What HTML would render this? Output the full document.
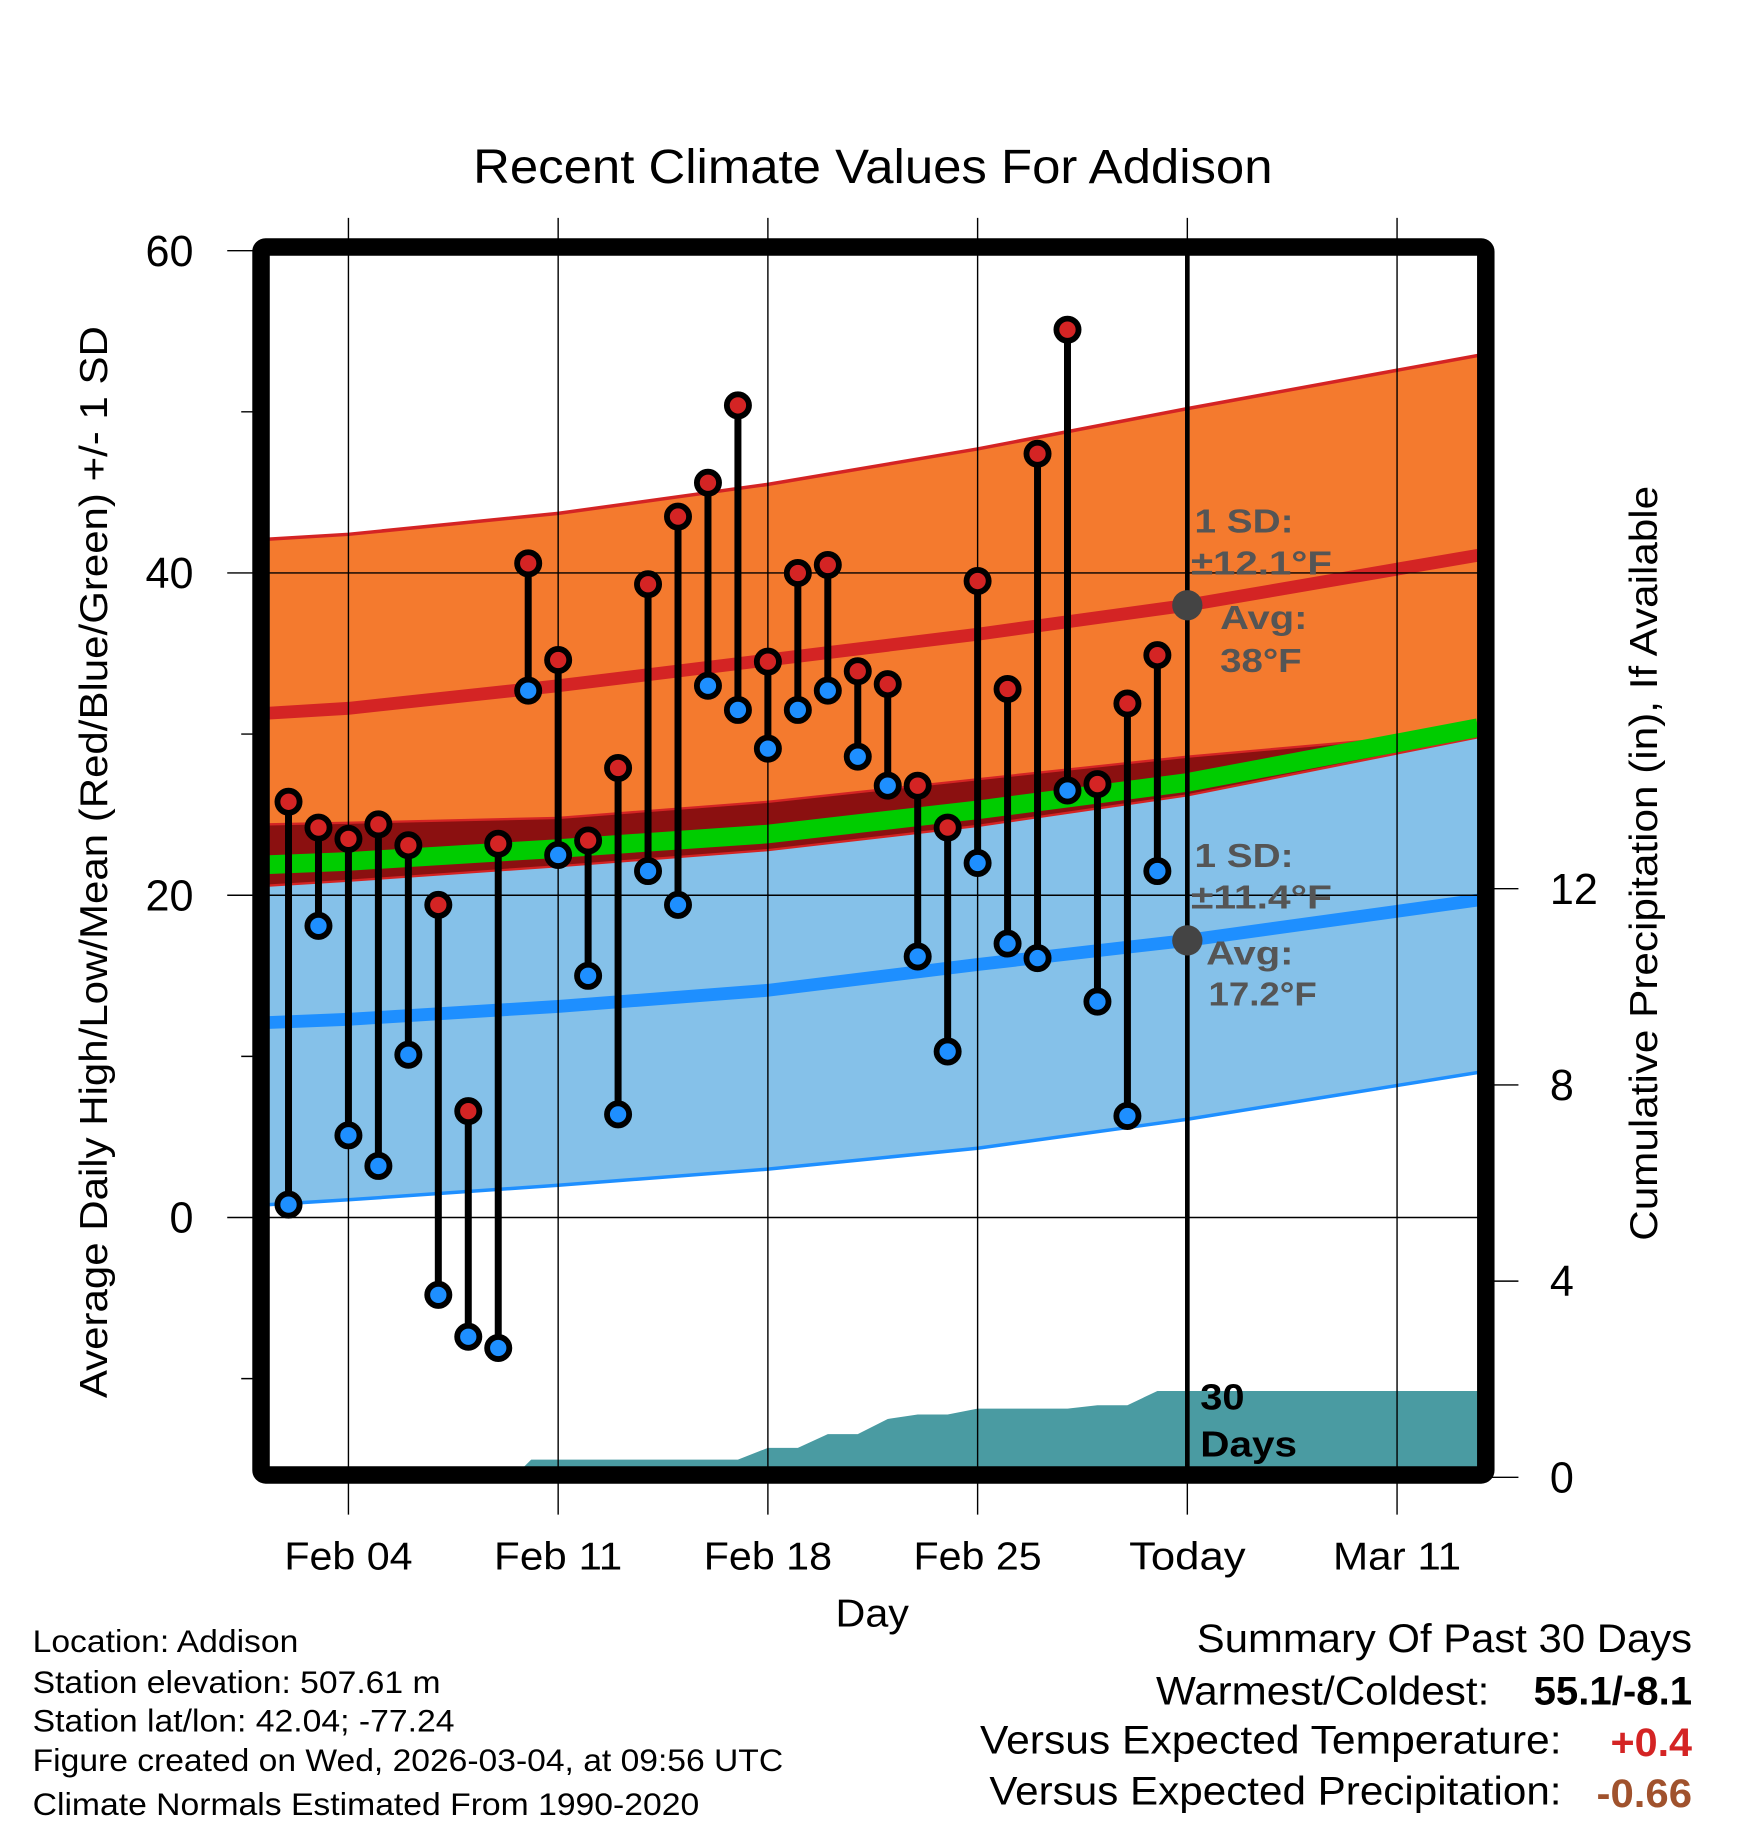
<!DOCTYPE html>
<html><head><meta charset="utf-8"><style>
html,body{margin:0;padding:0;background:#fff;}
svg{display:block;font-family:"Liberation Sans",Arial,sans-serif;}
</style></head><body>
<svg id="chart" width="1748" height="1828" viewBox="0 0 1500 1569" preserveAspectRatio="none" xmlns="http://www.w3.org/2000/svg">
<rect x="0" y="0" width="1500" height="1569" fill="#fff"/>
<g id="plot"></g>
<text x="406" y="157" font-size="41" textLength="686" lengthAdjust="spacingAndGlyphs">Recent Climate Values For Addison</text>
<text transform="translate(92,740) rotate(-90)" font-size="33" text-anchor="middle" textLength="920" lengthAdjust="spacingAndGlyphs">Average Daily High/Low/Mean (Red/Blue/Green) +/- 1 SD</text>
<text transform="translate(1422,741) rotate(-90)" font-size="33" text-anchor="middle" textLength="648" lengthAdjust="spacingAndGlyphs">Cumulative Precipitation (in), If Available</text>
<text x="717" y="1396" font-size="33" textLength="63" lengthAdjust="spacingAndGlyphs">Day</text>
<g font-size="27">
<text x="28" y="1418" textLength="228" lengthAdjust="spacingAndGlyphs">Location: Addison</text>
<text x="28" y="1453" textLength="350" lengthAdjust="spacingAndGlyphs">Station elevation: 507.61 m</text>
<text x="28" y="1486" textLength="362" lengthAdjust="spacingAndGlyphs">Station lat/lon: 42.04; -77.24</text>
<text x="28" y="1520" textLength="644" lengthAdjust="spacingAndGlyphs">Figure created on Wed, 2026-03-04, at 09:56 UTC</text>
<text x="28" y="1558" textLength="572" lengthAdjust="spacingAndGlyphs">Climate Normals Estimated From 1990-2020</text>
</g>
<g font-size="34">
<text x="1027" y="1418" textLength="425" lengthAdjust="spacingAndGlyphs">Summary Of Past 30 Days</text>
<text x="992" y="1463" textLength="286" lengthAdjust="spacingAndGlyphs">Warmest/Coldest:</text>
<text x="1316" y="1463" font-weight="bold" textLength="136" lengthAdjust="spacingAndGlyphs">55.1/-8.1</text>
<text x="841" y="1505" textLength="499" lengthAdjust="spacingAndGlyphs">Versus Expected Temperature:</text>
<text x="1382" y="1507" font-weight="bold" fill="#d42424" textLength="70" lengthAdjust="spacingAndGlyphs">+0.4</text>
<text x="849" y="1549" textLength="491" lengthAdjust="spacingAndGlyphs">Versus Expected Precipitation:</text>
<text x="1370" y="1551" font-weight="bold" fill="#a0522d" textLength="82" lengthAdjust="spacingAndGlyphs">-0.66</text>
</g>
</svg>
<script>
// ---- data ----
const days = [2,3,4,5,6,7,8,9,10,11,12,13,14,15,16,17,18,19,20,21,22,23,24,25,26,27,28,29,30,31];
const highs = [25.8,24.2,23.5,24.4,23.1,19.4,6.6,23.2,40.6,34.6,23.4,27.9,39.3,43.5,45.6,50.4,34.5,40.0,40.5,33.9,33.1,26.8,24.2,39.5,32.8,47.4,55.1,26.9,31.9,34.9];
const lows = [0.8,18.1,5.1,3.2,10.1,-4.8,-7.4,-8.1,32.7,22.5,15.0,6.4,21.5,19.4,33.0,31.5,29.1,31.5,32.7,28.6,26.8,16.2,10.3,22.0,17.0,16.1,26.5,13.4,6.3,21.5];
const normDays = [1.35,4,11,18,25,32,41.7];
const hiUpper = [42.1,42.4,43.7,45.5,47.7,50.2,53.5];
const hiAvg = [31.3,31.6,33.0,34.6,36.2,38.0,41.1];
const hiLower = [24.4,24.5,24.8,25.8,27.2,28.6,30.2];
const meanAvg = [21.9,22.1,22.9,23.8,25.3,27.0,30.4];
const loUpper = [20.6,20.9,21.8,22.8,24.3,26.2,29.8];
const loAvg = [12.1,12.3,13.1,14.1,15.7,17.2,19.7];
const loLower = [0.8,1.1,2.0,3.0,4.3,6.1,9.0];
const precipDays = [1.35,9.5,10.1,17,18,19,20,21,22,23,24,25,28,29,30,31,41.7];
const precipVals = [0,0,0.36,0.36,0.6,0.6,0.88,0.88,1.19,1.28,1.28,1.4,1.4,1.47,1.47,1.76,1.76];
const yTicks = [60,40,20,0];
const yMinor = [50,30,10,-10];
const rTicks = [0,4,8,12];
const xTickDays = [4,11,18,25,32,39];
const xTickLabels = ["Feb 04","Feb 11","Feb 18","Feb 25","Today","Mar 11"];
// ---- scales ----
const L=231,R=1268,T=219,B=1259;
const xs = d => 299 + (d-4)*25.71;
const ys = v => 1045 - v*13.83;
const yr = p => 1268 - p*42.1;
const NS="http://www.w3.org/2000/svg";
const g=document.getElementById('plot');
function mk(tag,attrs,parent){const e=document.createElementNS(NS,tag);for(const k in attrs)e.setAttribute(k,attrs[k]);(parent||g).appendChild(e);return e;}
const clip=mk('clipPath',{id:'pc'});mk('rect',{x:L,y:T,width:R-L,height:B-T},clip);
const pg=mk('g',{'clip-path':'url(#pc)'});
function linePts(a){return normDays.map((d,i)=>xs(d)+','+ys(a[i])).join(' ');}
function band(up,lo,fill,name){
  const pts=normDays.map((d,i)=>xs(d)+','+ys(up[i])).concat(normDays.slice().reverse().map((d,j)=>{const i=normDays.length-1-j;return xs(d)+','+ys(lo[i]);}));
  const e=mk('polygon',{points:pts.join(' '),fill:fill},pg);
  
  
}
band(loUpper,loLower,'#85c1e9','low-sd-band');
band(hiUpper,hiLower,'#f47a2e','high-sd-band');
band(hiLower,loUpper,'#8b1010','overlap-band');
function ln(a,color,w,name){const e=mk('polyline',{points:linePts(a),fill:'none',stroke:color,'stroke-width':w},pg);
  
  }
ln(hiUpper,'#d42424',3,'high-upper-sd-line');
ln(hiLower,'#d42424',2,'high-lower-sd-line');
ln(loUpper,'#d42424',2,'low-upper-sd-line');
ln(loLower,'#1e8fff',3,'low-lower-sd-line');
ln(meanAvg,'#00cc00',16,'mean-normal-line');
ln(hiAvg,'#d42424',11,'high-normal-line');
ln(loAvg,'#1e8fff',11,'low-normal-line');
// precipitation
const pp=precipDays.map((d,i)=>xs(d)+','+yr(precipVals[i]));
pp.push(xs(41.7)+','+(B+10));pp.push(xs(1.35)+','+(B+10));
const pe=mk('polygon',{points:pp.join(' '),fill:'#4a9ba2'},pg);


// gridlines
xTickDays.forEach((d,i)=>{
  const gl=mk('line',{x1:xs(d),x2:xs(d),y1:187,y2:1300,stroke:'#000','stroke-width':1.2});
  
  
  const w = xTickLabels[i]==='Today'?100:110;
  const t=mk('text',{x:xs(d)-w/2,y:1347,'font-size':33,textLength:w,lengthAdjust:'spacingAndGlyphs'});t.textContent=xTickLabels[i];
  
  
});
yTicks.forEach(v=>{
  const gl=mk('line',{x1:195,x2:R,y1:ys(v),y2:ys(v),stroke:'#000','stroke-width':1.2});
  
  
  const t=mk('text',{x:166,y:ys(v)+13,'font-size':37,'text-anchor':'end'});t.textContent=v;
  
  
});
yMinor.forEach(v=>{const m=mk('line',{x1:207,x2:222,y1:ys(v),y2:ys(v),stroke:'#000','stroke-width':1.2});
  
  });
rTicks.forEach(p=>{
  const m=mk('line',{x1:1275,x2:1303,y1:yr(p),y2:yr(p),stroke:'#000','stroke-width':1.2});
  
  
  const t=mk('text',{x:1330,y:yr(p)+13,'font-size':37,'text-anchor':'start'});t.textContent=p;
  
  
});
// today line
const tl=mk('line',{x1:xs(32),x2:xs(32),y1:T,y2:B,stroke:'#000','stroke-width':4});


// stems and points
days.forEach((d,i)=>{
  const s=mk('line',{x1:xs(d),x2:xs(d),y1:ys(highs[i]),y2:ys(lows[i]),stroke:'#000','stroke-width':6});
  
  
});
days.forEach((d,i)=>{
  const h=mk('circle',{cx:xs(d),cy:ys(highs[i]),r:9.5,fill:'#d42424',stroke:'#000','stroke-width':5});
  
  
  const l=mk('circle',{cx:xs(d),cy:ys(lows[i]),r:9.5,fill:'#1e8fff',stroke:'#000','stroke-width':5});
  
  
});
// annotations
function txt(x,y,s,fs,fill,name,w){const t=mk('text',{x:x,y:y,'font-size':fs,'font-weight':'bold',fill:fill});
  if(w){t.setAttribute('textLength',w);t.setAttribute('lengthAdjust','spacingAndGlyphs');}
  t.textContent=s;
  
  return t;}
const c1=mk('circle',{cx:xs(32),cy:ys(38),r:13,fill:'#444'});


const c2=mk('circle',{cx:xs(32),cy:ys(17.2),r:13,fill:'#444'});


txt(1025,457,'1 SD:',29,'#555','high-sd-label',85);
txt(1022,493,'±12.1°F',29,'#555','high-sd-value',121);
txt(1047,540,'Avg:',29,'#555','high-avg-label',75);
txt(1047,577,'38°F',29,'#555','high-avg-value',70);
txt(1025,744,'1 SD:',29,'#555','low-sd-label',85);
txt(1022,780,'±11.4°F',29,'#555','low-sd-value',121);
txt(1035,828,'Avg:',29,'#555','low-avg-label',75);
txt(1037,863,'17.2°F',29,'#555','low-avg-value',93);
txt(1030,1210,'30',31,'#000','precip-days-label',38);
txt(1030,1250,'Days',31,'#000','precip-days-label-2',83);
// frame
const fr=mk('rect',{x:224,y:212,width:1051,height:1054,fill:'none',stroke:'#000','stroke-width':15,rx:4});


</script>
</body></html>
